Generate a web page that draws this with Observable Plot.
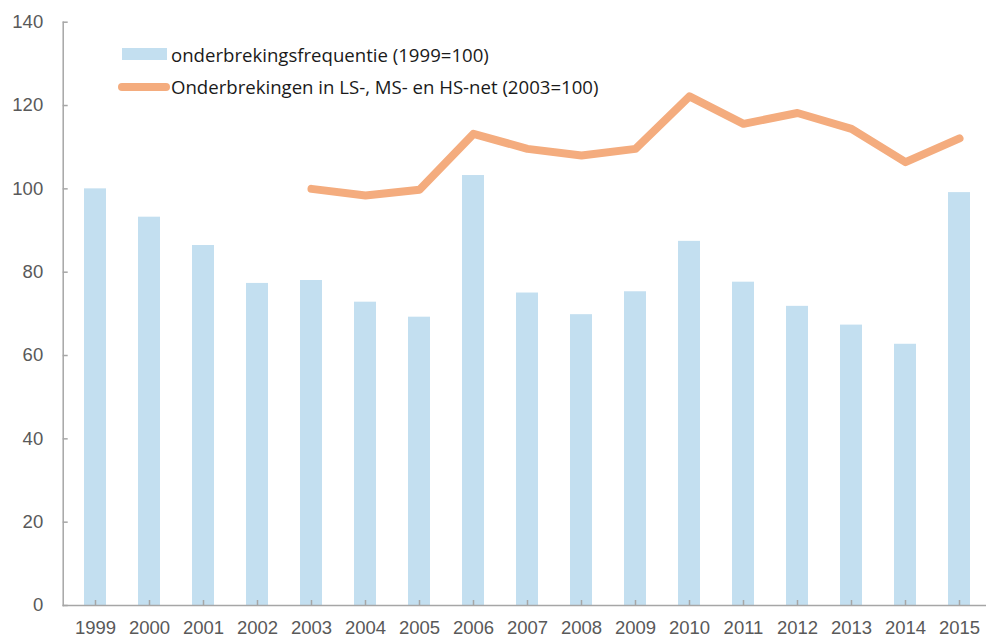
<!DOCTYPE html>
<html>
<head>
<meta charset="utf-8">
<script src="https://cdn.jsdelivr.net/npm/d3@7"></script>
<script src="https://cdn.jsdelivr.net/npm/@observablehq/plot@0.6"></script>
<style>
  html, body { margin: 0; padding: 0; background: #fff; }
  #wrap { position: relative; width: 986px; height: 638px; overflow: hidden; }
  .lg-text { position: absolute; font-family: "Open Sans", "Noto Sans", sans-serif; font-size: 18.6px; color: #1a1a1a; line-height: 1; white-space: nowrap; transform: translateY(-50%); }
  .lg-swatch { position: absolute; }
</style>
</head>
<body>
<div id="wrap"></div>
<script>
// ---- data ----
const years = ["1999","2000","2001","2002","2003","2004","2005","2006","2007","2008","2009","2010","2011","2012","2013","2014","2015"];
const frequentie = [100, 93.2, 86.4, 77.3, 78.0, 72.8, 69.2, 103.2, 75.0, 69.8, 75.3, 87.4, 77.6, 71.8, 67.3, 62.7, 99.1];
const netYears = ["2003","2004","2005","2006","2007","2008","2009","2010","2011","2012","2013","2014","2015"];
const netValues = [100, 98.4, 99.8, 113.2, 109.6, 108.0, 109.6, 122.2, 115.6, 118.2, 114.4, 106.4, 112.1];
const yTicks = [0, 20, 40, 60, 80, 100, 120, 140];
const seriesNames = ["onderbrekingsfrequentie (1999=100)", "Onderbrekingen in LS-, MS- en HS-net (2003=100)"];

const barColor = "#c3dff0";
const lineColor = "#f4ac7e";
const axisColor = "#a6a6a6";
const textColor = "#595959";

const bars = years.map((y, i) => ({year: y, value: frequentie[i]}));
const net = netYears.map((y, i) => ({year: y, value: netValues[i]}));

const chart = Plot.plot({
  width: 986,
  height: 638,
  marginTop: 21.7,
  marginBottom: 33,
  marginLeft: 62.7,
  marginRight: 0,
  style: {fontFamily: "'Liberation Sans', Arial, sans-serif", fontSize: "18.5px", color: textColor, background: "white"},
  x: {type: "band", domain: years, range: [62.7, 990.6], paddingInner: 0.6, paddingOuter: 0.3},
  y: {domain: [0, 140]},
  marks: [
    Plot.barY(bars, {x: "year", y: "value", fill: barColor}),
    Plot.line(net, {x: "year", y: "value", stroke: lineColor, strokeWidth: 8, strokeLinecap: "round", strokeLinejoin: "round"}),
    Plot.ruleY([0], {stroke: axisColor, strokeWidth: 1.5}),
    Plot.frame({anchor: "left", stroke: axisColor, strokeWidth: 1.5}),
    Plot.axisY({ticks: yTicks, tickSize: 0, tickPadding: 20, tickFormat: d => String(d), label: null, fill: textColor}),
    Plot.axisY({ticks: yTicks, tickSize: 5, dx: 5, label: null, fill: "none", stroke: axisColor, strokeWidth: 1.5}),
    Plot.axisX({tickSize: 0, tickPadding: 15.5, label: null, fill: textColor}),
    Plot.axisX({tickSize: 5, dy: -5, label: null, fill: "none", stroke: axisColor, strokeWidth: 1.5})
  ]
});

const wrap = document.getElementById("wrap");
wrap.appendChild(chart);

// legend (inside plot area)
function add(el) { wrap.appendChild(el); return el; }
const sw1 = document.createElement("div");
sw1.className = "lg-swatch";
Object.assign(sw1.style, {left: "121.7px", top: "48.3px", width: "45px", height: "12px", background: barColor});
add(sw1);
const t1 = document.createElement("div");
t1.className = "lg-text";
Object.assign(t1.style, {left: "171px", top: "55px"});
t1.textContent = seriesNames[0];
add(t1);
const sw2 = document.createElement("div");
sw2.className = "lg-swatch";
Object.assign(sw2.style, {left: "118px", top: "83px", width: "52px", height: "7.5px", background: lineColor, borderRadius: "4px"});
add(sw2);
const t2 = document.createElement("div");
t2.className = "lg-text";
Object.assign(t2.style, {left: "171px", top: "87px"});
t2.textContent = seriesNames[1];
add(t2);
</script>
</body>
</html>
